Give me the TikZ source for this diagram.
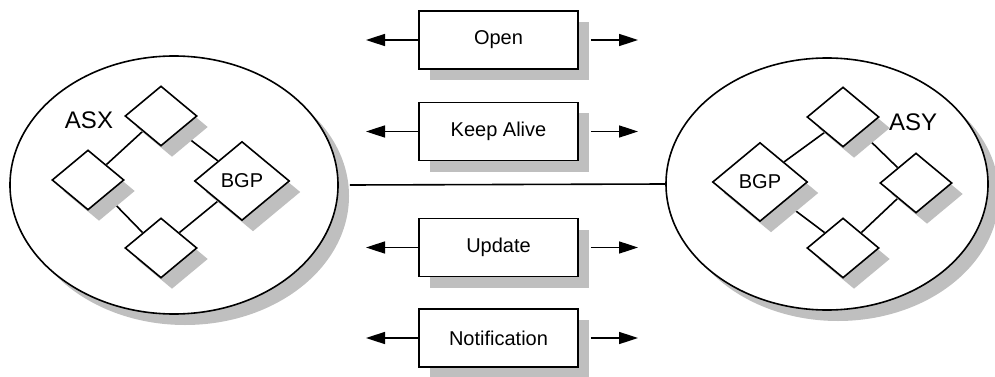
\documentclass[tikz,border=0pt]{standalone}
\usepackage{fontspec}
\setmainfont{Liberation Sans}
\usetikzlibrary{shapes.geometric,shadows,arrows.meta}
\pgfdeclarelayer{cloud}
\pgfdeclarelayer{links}
\pgfsetlayers{cloud,links,main}
\tikzset{
  castshadow/.style={drop shadow={shadow xshift=11pt,shadow yshift=-11pt,fill=black!25,opacity=1}},
  as/.style={ellipse,draw,fill=white,line width=1.6pt,castshadow},
  router/.style={diamond,draw,fill=white,line width=1.6pt,castshadow,inner sep=0pt,minimum width=72pt,minimum height=60pt},
  bgp/.style={router,minimum width=95pt,minimum height=79pt,font=\fontsize{20}{24}\selectfont},
  msg/.style={rectangle,draw,fill=white,line width=1.6pt,castshadow,minimum width=159pt,minimum height=58pt,font=\fontsize{20}{24}\selectfont},
  aslabel/.style={font=\fontsize{24}{28}\selectfont},
  link/.style={line width=1.6pt},
  flow/.style={line width=1.6pt,-{Triangle[length=19pt,width=12pt]}}
}
\begin{document}
\begin{tikzpicture}[x=1pt,y=-1pt]
  \useasboundingbox (0,0) rectangle (995,377);
  \begin{pgfonlayer}{cloud}
    \node[as,minimum width=328pt,minimum height=258pt] (asx) at (174,185) {};
    \node[as,minimum width=322pt,minimum height=252pt] (asy) at (827,184) {};
  \end{pgfonlayer}
  \draw[link] ([xshift=11pt]asx.east) -- (asy.west);

  \node[router] (xt) at (161,116) {};
  \node[router] (xl) at (88,180) {};
  \node[bgp] (xb) at (242,181) {BGP};
  \node[router] (xd) at (161,248) {};
  \node[aslabel] (asxname) at (89,120) {ASX};

  \node[router] (yt) at (843,117) {};
  \node[bgp] (yb) at (760,182) {BGP};
  \node[router] (yr) at (916,183) {};
  \node[router] (yd) at (843,248) {};
  \node[aslabel] (asyname) at (913,122) {ASY};

  \begin{pgfonlayer}{links}
    \draw[link] (xt.south west) -- (xl.north east);
    \draw[link] (xt.south east) -- (xb.north west);
    \draw[link] (xl.south east) -- (xd.north west);
    \draw[link] (xb.south west) -- (xd.north east);
    \draw[link] (yt.south west) -- (yb.north east);
    \draw[link] (yt.south east) -- (yr.north west);
    \draw[link] (yb.south east) -- (yd.north west);
    \draw[link] (yr.south west) -- (yd.north east);
  \end{pgfonlayer}

  \node[msg] (open) at (498.5,40) {Open};
  \node[msg] (keep) at (498.5,131.5) {Keep Alive};
  \node[msg] (update) at (498.5,247.5) {Update};
  \node[msg] (notif) at (498.5,338) {Notification};

  \coordinate (openl) at (366,40);
  \coordinate (openr) at (638,40);
  \coordinate (keepl) at (366,131.5);
  \coordinate (keepr) at (638,131.5);
  \coordinate (updatel) at (366,247.5);
  \coordinate (updater) at (638,247.5);
  \coordinate (notifl) at (366,338);
  \coordinate (notifr) at (638,338);

  \draw[flow] (open.west) -- (openl);
  \draw[flow] ([xshift=12pt]open.east) -- (openr);
  \draw[flow] (keep.west) -- (keepl);
  \draw[flow] ([xshift=12pt]keep.east) -- (keepr);
  \draw[flow] (update.west) -- (updatel);
  \draw[flow] ([xshift=12pt]update.east) -- (updater);
  \draw[flow] (notif.west) -- (notifl);
  \draw[flow] ([xshift=12pt]notif.east) -- (notifr);
\end{tikzpicture}
\end{document}
